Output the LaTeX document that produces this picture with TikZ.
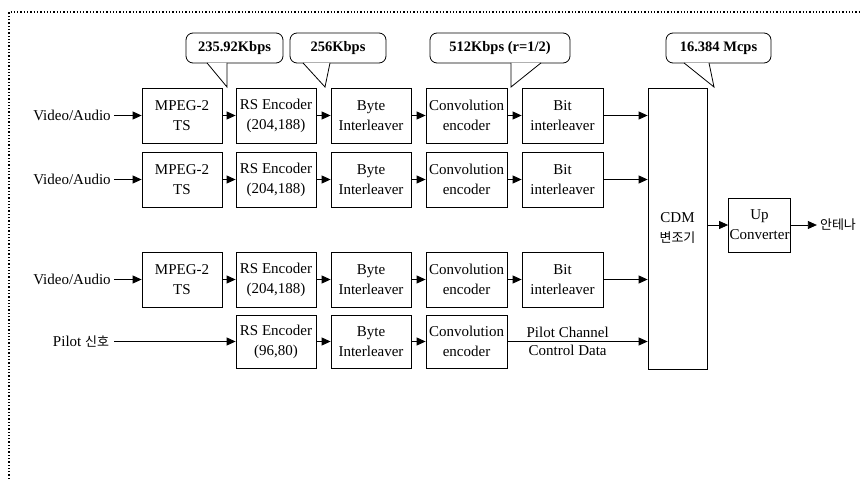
\documentclass[tikz,border=0pt]{standalone}
\usepackage{fontspec}
\setmainfont{Liberation Serif}
\newfontfamily\kr{Noto Sans CJK KR}
\newcommand{\hangul}[1]{{\kr\fontsize{13}{20}\selectfont #1}}
\usetikzlibrary{arrows.meta}

\begin{document}
\begin{tikzpicture}[
  x=1pt, y=-1pt,
  >={Triangle[length=9pt,width=8pt]},
  font=\fontsize{15}{20}\selectfont,
  block/.style={
    draw,
    line width=0.8pt,
    align=center,
    inner sep=1pt,
    minimum width=80pt,
    minimum height=55pt
  },
  cdmblock/.style={block, minimum width=59pt, minimum height=281pt},
  upblock/.style={block, minimum width=59pt, minimum height=54pt},
  rate/.style={
    draw,
    line width=0.8pt,
    rounded corners=7pt,
    font=\fontsize{14.5}{18}\selectfont\bfseries,
    minimum height=30pt,
    inner xsep=3pt
  },
  tail/.style={draw, fill=white, line width=0.8pt},
  edge/.style={->, line width=0.8pt},
  label/.style={inner sep=3pt}
]
  \useasboundingbox (0,0) rectangle (862,479);
  \draw[dotted, line width=1.3pt] (9,479) -- (9,12) -- (862,12);

  % rate callouts
  \node[rate, minimum width=97pt] (r1) at (234.5,48) {235.92Kbps};
  \node[rate, minimum width=96pt] (r2) at (338,48) {256Kbps};
  \node[rate, minimum width=140pt] (r3) at (500,48) {512Kbps (r=1/2)};
  \node[rate, minimum width=105pt] (r4) at (718.5,48) {16.384 Mcps};
  \coordinate (t1) at (227,87);
  \coordinate (t2) at (325,87);
  \coordinate (t3) at (511,87);
  \coordinate (t4) at (714,87);
  \path[tail] ([xshift=-27.5pt,yshift=0.5pt]r1.south) -- (t1) -- ([xshift=-7.5pt,yshift=0.5pt]r1.south);
  \path[tail] ([xshift=-35pt,yshift=0.5pt]r2.south) -- (t2) -- ([xshift=-8pt,yshift=0.5pt]r2.south);
  \path[tail] ([xshift=11pt,yshift=0.5pt]r3.south) -- (t3) -- ([xshift=41pt,yshift=0.5pt]r3.south);
  \path[tail] ([xshift=-34.5pt,yshift=0.5pt]r4.south) -- (t4) -- ([xshift=-9.5pt,yshift=0.5pt]r4.south);

  % row 1
  \node[label] (va1) at (72,115.5) {Video/Audio};
  \node[block] (mp1) at (182,115.5) {MPEG-2\\TS};
  \node[block] (rs1) at (276,115.5) {RS Encoder\\(204,188)};
  \node[block] (by1) at (371,115.5) {Byte\\Interleaver};
  \node[block, minimum width=81pt] (cv1) at (466.5,115.5) {Convolution\\encoder};
  \node[block, minimum width=81pt] (bi1) at (562.5,115.5) {Bit\\interleaver};

  % row 2
  \node[label] (va2) at (72,179.5) {Video/Audio};
  \node[block] (mp2) at (182,179.5) {MPEG-2\\TS};
  \node[block] (rs2) at (276,179.5) {RS Encoder\\(204,188)};
  \node[block] (by2) at (371,179.5) {Byte\\Interleaver};
  \node[block, minimum width=81pt] (cv2) at (466.5,179.5) {Convolution\\encoder};
  \node[block, minimum width=81pt] (bi2) at (562.5,179.5) {Bit\\interleaver};

  % row 3
  \node[label] (va3) at (72,279.5) {Video/Audio};
  \node[block] (mp3) at (182,279.5) {MPEG-2\\TS};
  \node[block] (rs3) at (276,279.5) {RS Encoder\\(204,188)};
  \node[block] (by3) at (371,279.5) {Byte\\Interleaver};
  \node[block, minimum width=81pt] (cv3) at (466.5,279.5) {Convolution\\encoder};
  \node[block, minimum width=81pt] (bi3) at (562.5,279.5) {Bit\\interleaver};

  % pilot row
  \node[label, inner sep=5pt] (pil) at (81,341.5) {Pilot \hangul{신호}};
  \node[block, minimum height=53pt] (rs4) at (276,341.5) {RS Encoder\\(96,80)};
  \node[block, minimum height=53pt] (by4) at (371,341.5) {Byte\\Interleaver};
  \node[block, minimum width=81pt, minimum height=53pt] (cv4) at (466.5,341.5) {Convolution\\encoder};

  \node[cdmblock] (cdm) at (677.5,228.5) {CDM\\\hangul{변조기}};
  \node[upblock] (up) at (759.5,225) {Up\\Converter};
  \node[label] (ant) at (838,225) {\hangul{안테나}};

  \draw[edge] (va1) -- (mp1);
  \draw[edge] (mp1) -- (rs1);
  \draw[edge] (rs1) -- (by1);
  \draw[edge] (by1) -- (cv1);
  \draw[edge] (cv1) -- (bi1);
  \draw[edge] (bi1) -- (bi1 -| cdm.west);

  \draw[edge] (va2) -- (mp2);
  \draw[edge] (mp2) -- (rs2);
  \draw[edge] (rs2) -- (by2);
  \draw[edge] (by2) -- (cv2);
  \draw[edge] (cv2) -- (bi2);
  \draw[edge] (bi2) -- (bi2 -| cdm.west);

  \draw[edge] (va3) -- (mp3);
  \draw[edge] (mp3) -- (rs3);
  \draw[edge] (rs3) -- (by3);
  \draw[edge] (by3) -- (cv3);
  \draw[edge] (cv3) -- (bi3);
  \draw[edge] (bi3) -- (bi3 -| cdm.west);

  \draw[edge] (pil) -- (rs4);
  \draw[edge] (rs4) -- (by4);
  \draw[edge] (by4) -- (cv4);
  \draw[edge] (cv4) -- (cv4 -| cdm.west)
    node[pos=0.43, above, inner sep=3pt] {Pilot Channel}
    node[pos=0.43, below, inner sep=3pt] {Control Data};

  \draw[edge] (cdm.east |- up) -- (up);
  \draw[edge] (up) -- (ant);
\end{tikzpicture}
\end{document}
